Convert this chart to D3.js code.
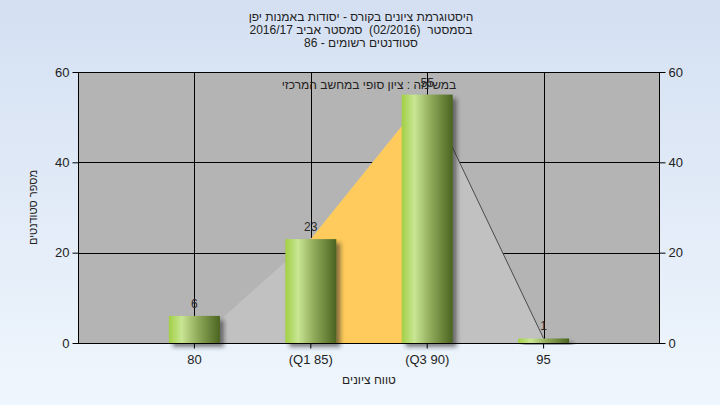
<!DOCTYPE html>
<html>
<head>
<meta charset="utf-8">
<script src="https://cdn.jsdelivr.net/npm/d3@7"></script>
<style>
  html, body { margin: 0; padding: 0; }
  body { width: 720px; height: 405px; overflow: hidden; }
  svg { display: block; font-family: "Liberation Sans", Arial, sans-serif; }
</style>
</head>
<body>
<svg id="chart" width="720" height="405"></svg>
<script>
// ---- data ----
const titleLines = [
  "היסטוגרמת ציונים בקורס - יסודות באמנות יפן",
  "בסמסטר  (02/2016)  סמסטר אביב 2016/17",
  "סטודנטים רשומים - 86"
];
const subtitle = "במשימה : ציון סופי במחשב המרכזי";
const categories = ["80", "(Q1 85)", "(Q3 90)", "95"];
const counts = [6, 23, 55, 1];
const curveValues = [0, 23, 55, 1];
const q1Index = 1;
const q3Index = 2;
const yTicks = [0, 20, 40, 60];
const yTitle = "מספר סטודנטים";
const xTitle = "טווח ציונים";

// ---- layout ----
const W = 720, H = 405;
const m = { left: 78, right: 60, top: 72, bottom: 62 };
const pw = W - m.left - m.right, ph = H - m.top - m.bottom;

const svg = d3.select("#chart");
const defs = svg.append("defs");

const bg = defs.append("linearGradient").attr("id", "bg").attr("x1", 0).attr("y1", 0).attr("x2", 0).attr("y2", 1);
bg.append("stop").attr("offset", "0%").attr("stop-color", "#d4e0f2");
bg.append("stop").attr("offset", "100%").attr("stop-color", "#eff6fd");

const barG = defs.append("linearGradient").attr("id", "barG").attr("x1", 0).attr("y1", 0).attr("x2", 1).attr("y2", 0);
barG.append("stop").attr("offset", "0%").attr("stop-color", "#a2cf45");
barG.append("stop").attr("offset", "25%").attr("stop-color", "#c8e694");
barG.append("stop").attr("offset", "55%").attr("stop-color", "#93ad5d");
barG.append("stop").attr("offset", "100%").attr("stop-color", "#4a6420");

const sh = defs.append("filter").attr("id", "shadow").attr("x", "-20%").attr("y", "-20%").attr("width", "150%").attr("height", "150%");
sh.append("feDropShadow").attr("dx", 4).attr("dy", 4).attr("stdDeviation", 2)
  .attr("flood-color", "#222").attr("flood-opacity", 0.55);

svg.append("rect").attr("width", W).attr("height", H).attr("fill", "url(#bg)");

// ---- scales ----
const x = d3.scaleBand().domain(categories).range([m.left, m.left + pw]).paddingInner(0).paddingOuter(0.5);
const cx = d => x(d) + x.bandwidth() / 2;
const y = d3.scaleLinear().domain([0, 60]).range([m.top + ph, m.top]);
const barW = 51;

// plot background
svg.append("rect").attr("x", m.left).attr("y", m.top).attr("width", pw).attr("height", ph).attr("fill", "#b4b4b4");

// gridlines
const grid = svg.append("g").attr("stroke", "#000").attr("stroke-width", 1);
grid.selectAll("line.h").data(yTicks.filter(t => t > 0 && t < 60)).join("line")
  .attr("x1", m.left).attr("x2", m.left + pw)
  .attr("y1", d => Math.round(y(d)) + 0.5).attr("y2", d => Math.round(y(d)) + 0.5);
grid.selectAll("line.v").data(categories).join("line")
  .attr("y1", m.top).attr("y2", m.top + ph)
  .attr("x1", d => Math.round(cx(d)) + 0.5).attr("x2", d => Math.round(cx(d)) + 0.5);

// area
const pts = categories.map((c, i) => ({ c, v: curveValues[i], i }));
const area = d3.area().x(d => cx(d.c)).y0(y(0)).y1(d => y(d.v));
svg.append("path").datum(pts).attr("d", area).attr("fill", "#c1c1c1");
svg.append("path").datum(pts.slice(q1Index, q3Index + 1)).attr("d", area).attr("fill", "#fecb5c");
svg.append("path").datum(pts.slice(q3Index, q3Index + 2))
  .attr("d", d3.line().x(d => cx(d.c)).y(d => y(d.v)))
  .attr("fill", "none").attr("stroke", "#4a4a4a").attr("stroke-width", 1);

// bars
svg.append("g").selectAll("rect").data(categories).join("rect")
  .attr("x", d => cx(d) - barW / 2)
  .attr("width", barW)
  .attr("y", (d, i) => y(counts[i]))
  .attr("height", (d, i) => y(0) - y(counts[i]))
  .attr("fill", "url(#barG)")
  .attr("filter", "url(#shadow)");

// value labels
svg.append("g").selectAll("text").data(categories).join("text")
  .attr("x", d => cx(d)).attr("y", (d, i) => y(counts[i]) - 8)
  .attr("text-anchor", "middle").attr("font-size", 12).attr("fill", "#2a2a2a")
  .text((d, i) => counts[i]);

// frame
svg.append("rect").attr("x", m.left + 0.5).attr("y", m.top + 0.5).attr("width", pw - 1).attr("height", ph)
  .attr("fill", "none").attr("stroke", "#000");

// axes
const axL = d3.axisLeft(y).tickValues(yTicks).tickSize(6).tickPadding(3);
const axR = d3.axisRight(y).tickValues(yTicks).tickSize(6).tickPadding(3);
const axB = d3.axisBottom(x).tickSize(5).tickPadding(6);
function style(g) {
  g.select(".domain").remove();
  g.selectAll("line").attr("stroke", "#000");
  g.selectAll("text").attr("font-size", 13).attr("fill", "#222").attr("font-family", "Liberation Sans, Arial, sans-serif");
}
svg.append("g").attr("transform", `translate(${m.left + 0.5},0)`).call(axL).call(style);
svg.append("g").attr("transform", `translate(${m.left + pw - 0.5},0)`).call(axR).call(style);
svg.append("g").attr("transform", `translate(0,${m.top + ph + 0.5})`).call(axB).call(style);

// titles
svg.append("g").selectAll("text").data(titleLines).join("text")
  .attr("x", 361).attr("y", (d, i) => 21 + i * 13)
  .attr("text-anchor", "middle").attr("direction", "rtl")
  .style("white-space", "pre")
  .attr("font-size", 12).attr("fill", "#222")
  .text(d => d);

svg.append("text").attr("x", m.left + pw / 2).attr("y", 89)
  .attr("text-anchor", "middle").attr("direction", "rtl")
  .attr("font-size", 12).attr("fill", "#222").text(subtitle);

svg.append("text").attr("transform", `translate(37,${m.top + ph / 2}) rotate(-90)`)
  .attr("text-anchor", "middle").attr("direction", "rtl")
  .attr("font-size", 11).attr("fill", "#222").text(yTitle);

svg.append("text").attr("x", m.left + pw / 2).attr("y", 384)
  .attr("text-anchor", "middle").attr("direction", "rtl")
  .attr("font-size", 12).attr("fill", "#222").text(xTitle);
</script>
</body>
</html>
